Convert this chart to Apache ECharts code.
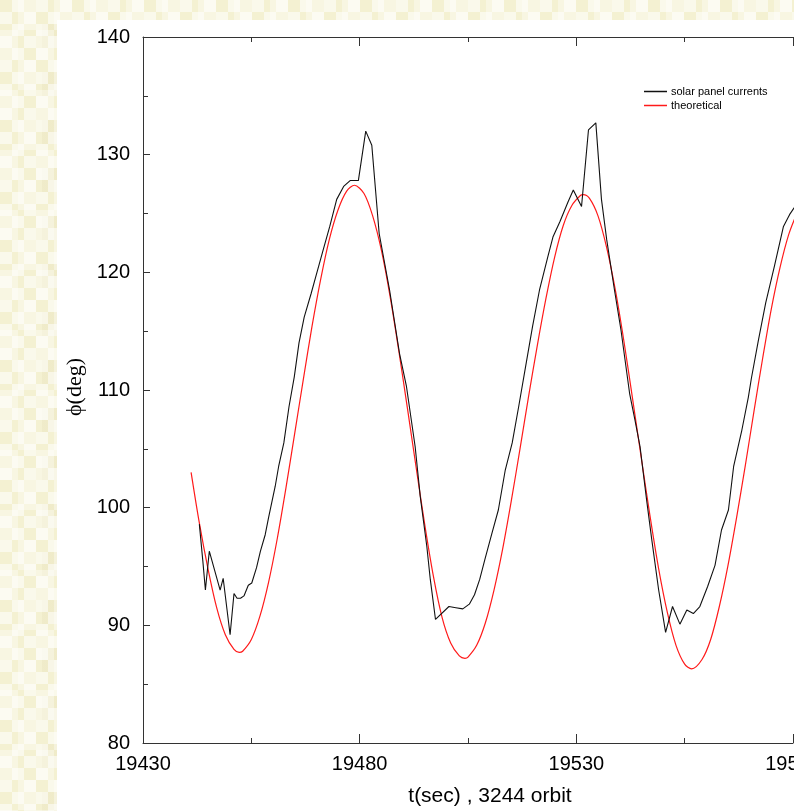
<!DOCTYPE html>
<html>
<head>
<meta charset="utf-8">
<script src="https://cdn.jsdelivr.net/npm/echarts@6/dist/echarts.min.js"></script>
<style>
  html, body { margin: 0; padding: 0; }
  body {
    width: 794px; height: 811px; overflow: hidden; position: relative;
    background-color: #f4f1d2;
    background-image:
      conic-gradient(rgba(255,255,255,.55) 25%, transparent 0 50%, rgba(255,255,255,.55) 0 75%, transparent 0),
      conic-gradient(rgba(255,255,255,.35) 25%, transparent 0 50%, rgba(255,255,255,.35) 0 75%, transparent 0),
      conic-gradient(transparent 25%, rgba(236,232,196,.6) 0 50%, transparent 0);
    background-size: 24px 24px, 36px 60px, 84px 48px;
  }
  #paper { position: absolute; left: 57px; top: 20px; width: 737px; height: 791px; background: #fff; }
  #chart { position: absolute; left: 0; top: 0; width: 794px; height: 811px; }
</style>
</head>
<body>
<div id="paper"></div>
<div id="chart"></div>
<script>
// t(sec), phi(deg)
var measured = [
  [19443.0, 98.6], [19443.8, 95.5], [19444.4, 93.0], [19445.3, 96.3], [19447.8, 93.0],
  [19448.5, 94.0], [19450.1, 89.2], [19451.0, 92.7], [19451.7, 92.3], [19452.5, 92.3],
  [19453.3, 92.5], [19454.3, 93.4], [19455.1, 93.6], [19456.2, 94.9], [19457.1, 96.3],
  [19458.2, 97.7], [19459.0, 99.2], [19460.5, 101.8], [19461.3, 103.5], [19462.5, 105.5],
  [19463.7, 108.6], [19464.9, 111.1], [19466.0, 114.0], [19467.2, 116.2], [19468.8, 118.2],
  [19470.0, 119.8], [19471.5, 121.8], [19473.1, 123.9], [19474.7, 126.2], [19476.3, 127.3],
  [19477.8, 127.8], [19479.7, 127.8], [19481.4, 132.0], [19482.8, 130.8], [19484.5, 123.3],
  [19486.9, 118.5], [19489.2, 113.1], [19490.8, 110.3], [19492.8, 105.2], [19494.0, 100.9],
  [19495.5, 96.7], [19496.3, 93.9], [19497.5, 90.5], [19500.6, 91.6], [19502.2, 91.5],
  [19503.8, 91.4], [19505.3, 91.8], [19506.5, 92.6], [19507.7, 93.9], [19508.9, 95.6],
  [19510.5, 97.8], [19512.0, 99.8], [19513.6, 103.2], [19515.2, 105.5], [19516.7, 108.6],
  [19518.3, 112.0], [19519.9, 115.4], [19521.5, 118.5], [19523.4, 121.3], [19524.6, 123.0],
  [19526.2, 124.3], [19528.1, 126.0], [19529.3, 127.0], [19531.2, 125.6], [19532.8, 132.1],
  [19534.5, 132.7], [19535.8, 126.2], [19537.0, 122.8], [19538.8, 118.5], [19540.3, 115.1],
  [19542.3, 109.7], [19543.5, 107.5], [19544.7, 105.2], [19546.2, 100.7], [19547.4, 97.3],
  [19549.0, 93.0], [19550.6, 89.4], [19552.2, 91.6], [19553.9, 90.1], [19555.5, 91.3],
  [19557.0, 91.0], [19558.5, 91.6], [19560.3, 93.3], [19562.0, 95.1], [19563.5, 98.1],
  [19565.1, 99.8], [19566.3, 103.5], [19568.2, 106.6], [19569.7, 109.4], [19570.4, 111.0],
  [19572.0, 114.2], [19573.7, 117.4], [19575.7, 120.5], [19577.8, 123.9], [19579.2, 124.9],
  [19580.3, 125.5]
];

var theory = [
  [19441.1, 103.0], [19443, 98.7], [19445, 94.8], [19447, 91.5], [19449, 89.2],
  [19451, 87.95], [19452.2, 87.7], [19453, 87.8], [19455, 88.8], [19457, 90.8],
  [19459, 93.7], [19461, 97.4], [19463, 101.7], [19465, 106.3], [19467, 110.9],
  [19469, 115.4], [19471, 119.4], [19473, 122.8], [19475, 125.3], [19477, 126.9],
  [19478.8, 127.4], [19481, 126.7], [19483, 124.8], [19485, 121.9], [19487, 118.0],
  [19489, 113.4], [19491, 108.5], [19493, 103.5], [19495, 98.6], [19497, 94.2],
  [19499, 90.7], [19501, 88.5], [19503, 87.4], [19504.3, 87.2], [19505, 87.3],
  [19507, 88.3], [19509, 90.2], [19511, 93.0], [19513, 96.5], [19515, 100.6],
  [19517, 105.0], [19519, 109.5], [19521, 113.8], [19523, 117.8], [19525, 121.3],
  [19527, 124.0], [19529, 125.7], [19531, 126.55], [19531.6, 126.6], [19533, 126.3],
  [19535, 124.8], [19537, 122.1], [19539, 118.5], [19541, 114.1], [19543, 109.2],
  [19545, 104.2], [19547, 99.3], [19549, 94.8], [19551, 91.1], [19553, 88.3],
  [19555, 86.7], [19556.6, 86.3], [19559, 87.1], [19561, 88.8], [19563, 91.6],
  [19565, 95.1], [19567, 99.2], [19569, 103.6], [19571, 108.2], [19573, 112.7],
  [19575, 116.9], [19577, 120.4], [19579, 123.2], [19581, 125.1]
];

var seriesNames = ['solar panel currents', 'theoretical'];
var xTitle = 't(sec) , 3244 orbit';
var yTitle = '\u03d5(deg)';

var axisFont = "'Liberation Sans', Arial, sans-serif";

var chart = echarts.init(document.getElementById('chart'), null, { renderer: 'canvas' });

function xAx(pos, labels) {
  return {
    type: 'value', position: pos, min: 19430, max: 19580, interval: 50,
    axisLine: { show: true, onZero: false, lineStyle: { color: '#333', width: 1 } },
    axisTick: { show: true, inside: true, length: 9, lineStyle: { color: '#333' } },
    minorTick: { show: true, splitNumber: 2, length: 5, lineStyle: { color: '#333' } },
    splitLine: { show: false },
    axisLabel: {
      show: labels, color: '#000', fontSize: 20, fontFamily: axisFont, margin: 11,
      showMaxLabel: true, hideOverlap: false,
      formatter: function (v) { return String(v); }
    }
  };
}

chart.setOption({
  backgroundColor: 'transparent',
  animation: false,
  grid: { left: 143, top: 37, right: 1, bottom: 68, containLabel: false, outerBoundsMode: 'none' },
  xAxis: [xAx('bottom', true), xAx('top', false)],
  yAxis: {
    type: 'value', min: 80, max: 140, interval: 10,
    axisLine: { show: true, lineStyle: { color: '#333', width: 1 } },
    axisTick: { show: true, inside: true, length: 7, lineStyle: { color: '#333' } },
    minorTick: { show: true, splitNumber: 2, length: 5, lineStyle: { color: '#333' } },
    splitLine: { show: false },
    axisLabel: { color: '#000', fontSize: 20, fontFamily: axisFont, margin: 13 }
  },
  legend: {
    data: seriesNames, orient: 'vertical', left: 639, top: 81,
    icon: 'rect', itemWidth: 23, itemHeight: 1.5, itemGap: 3,
    textStyle: { fontSize: 11, fontFamily: "'Liberation Sans', sans-serif", color: '#000', padding: [0, 0, 0, -1] }
  },
  graphic: [
    {
      type: 'text', x: 490, y: 796,
      style: { text: xTitle, fill: '#000', font: '21px ' + axisFont, textAlign: 'center', textVerticalAlign: 'middle' }
    },
    {
      type: 'text', x: 75, y: 387, rotation: Math.PI / 2,
      style: { text: yTitle, fill: '#000', font: "22px 'Liberation Serif', serif", textAlign: 'center', textVerticalAlign: 'middle' }
    }
  ],
  series: [
    {
      name: seriesNames[0], type: 'line', data: measured, symbol: 'none',
      lineStyle: { color: '#111', width: 1.1 }, itemStyle: { color: '#111' }, z: 3
    },
    {
      name: seriesNames[1], type: 'line', data: theory, symbol: 'none', smooth: 0.3,
      lineStyle: { color: '#ff1a1a', width: 1.2 }, itemStyle: { color: '#ff1a1a' }, z: 2
    }
  ]
});
</script>
</body>
</html>
